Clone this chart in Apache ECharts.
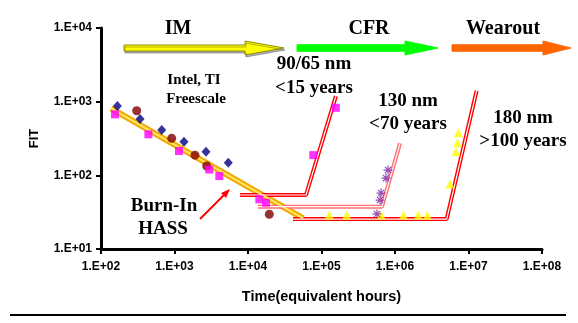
<!DOCTYPE html>
<html>
<head>
<meta charset="utf-8">
<script src="https://cdn.jsdelivr.net/npm/echarts@6/dist/echarts.min.js"></script>
<style>html,body{margin:0;padding:0;background:#fff;}#c{width:578px;height:323px;}</style>
</head>
<body>
<div id="c"></div>
<script>
const xTickLabels = ['1.E+02','1.E+03','1.E+04','1.E+05','1.E+06','1.E+07','1.E+08'];
const yTickLabels = ['1.E+01','1.E+02','1.E+03','1.E+04'];

const navyDiamonds = [[167,871],[340,581],[670,412],[1346,286],[2684,209],[5393,148]];
const maroonCircles = [[306,753],[916,318],[1901,188],[2742,134],[19500,29.6]];
const magentaSquares = [[155,673],[441,360],[1151,214],[2972,120],[4070,97.7],[14260,47.2],[17580,42.5],[77300,188],[157000,826]];
const yellowTriangles = [[127700,28.9],[220000,28.9],[645000,28.9],[1300000,28.9],[2070000,28.9],[2750000,28.9],[5600000,76.2],[6760000,209],[7050000,277],[7270000,378]];
const purpleStars = [[804000,118],[755000,91.8],[646000,57.5],[626000,46.2],[569000,29.9]];
const burnInTrend = [[137,811],[56500,26.1]];
const curve90 = [[7780,54.1],[61500,54.1],[157000,1191]];
const curve130 = [[13700,37.5],[665000,37.5],[1170000,272]];
const curve180 = [[40900,25.5],[5050000,25.5],[12900000,1406]];

const serif = 'Liberation Serif';
const sans = 'Liberation Sans';

function dbl(data, outer, inner, wOut, wIn) {
  return [
    {type:'line', data, symbol:'none', silent:true, lineStyle:{color:outer, width:wOut}, z:2},
    {type:'line', data, symbol:'none', silent:true, lineStyle:{color:inner, width:wIn}, z:3}
  ];
}
function scatter(data, symbol, size, color, extra) {
  return Object.assign({type:'scatter', data, symbol, symbolSize:size, itemStyle:{color}, z:5}, extra||{});
}
function arrow(x0, x1, xh, y, sh, hh, fill, stroke, shadow) {
  const style = {fill, stroke:stroke||fill, lineWidth:1};
  if (shadow) { style.shadowColor = 'rgba(0,0,0,0.3)'; style.shadowOffsetY = 2; style.shadowOffsetX = 1; style.shadowBlur = 0; }
  return {type:'polygon', shape:{points:[[x0,y-sh/2],[x1,y-sh/2],[x1,y-hh/2],[xh,y],[x1,y+hh/2],[x1,y+sh/2],[x0,y+sh/2]]}, style};
}
function txt(x, y, t, size) {
  return {type:'text', x, y, style:{text:t, font:'bold '+size+'px "'+serif+'"', fill:'#000', align:'center', verticalAlign:'middle'}};
}

const chart = echarts.init(document.getElementById('c'));
chart.setOption({
  animation:false,
  backgroundColor:'#fff',
  grid:{left:101, right:36, top:28, bottom:74, outerBoundsMode:'none'},
  xAxis:{type:'log', logBase:10, min:100, max:1e8,
    name:'Time(equivalent hours)', nameLocation:'middle', nameGap:40,
    nameTextStyle:{fontFamily:sans, fontWeight:'bold', fontSize:14.5, color:'#000'},
    axisLine:{lineStyle:{color:'#000', width:3}},
    axisTick:{show:true, length:5, lineStyle:{color:'#000', width:2}},
    minorTick:{show:false}, splitLine:{show:false},
    axisLabel:{color:'#000', fontFamily:sans, fontWeight:'bold', fontSize:12, margin:12,
      formatter:v => xTickLabels[Math.round(Math.log10(v)) - 2]}
  },
  yAxis:{type:'log', logBase:10, min:10, max:1e4,
    name:'FIT', nameLocation:'middle', nameGap:60, nameRotate:90,
    nameTextStyle:{fontFamily:sans, fontWeight:'bold', fontSize:13, color:'#000'},
    axisLine:{show:true, lineStyle:{color:'#000', width:3}},
    axisTick:{show:true, length:5, lineStyle:{color:'#000', width:2}},
    minorTick:{show:false}, splitLine:{show:false},
    axisLabel:{color:'#000', fontFamily:sans, fontWeight:'bold', fontSize:12, margin:9,
      formatter:v => yTickLabels[Math.round(Math.log10(v)) - 1]}
  },
  series:[
    ...dbl(burnInTrend, '#f2a900', '#ffe866', 6, 2),
    ...dbl(curve130, '#ff6f6f', '#ffffff', 4, 1.2),
    ...dbl(curve90, '#ff0000', '#ffffff', 4, 1.2),
    ...dbl(curve180, '#ff0000', '#ffffff', 4, 1.2),
    scatter(navyDiamonds, 'diamond', [9,10], '#000080'),
    scatter(maroonCircles, 'circle', 9, '#800000'),
    scatter(magentaSquares, 'rect', 8, '#ff00ff'),
    scatter(yellowTriangles, 'triangle', 9, '#ffff00'),
    scatter(purpleStars, 'path://M0,5L10,5M5,0L5,10M1.5,1.5L8.5,8.5M1.5,8.5L8.5,1.5', 9, 'none',
      {itemStyle:{color:'none', borderColor:'#7a1fa2', borderWidth:1.2}})
  ],
  graphic:[
    arrow(124, 245, 284, 48, 6, 14, '#ffff00', '#8c8c00', true),
    arrow(297, 405, 438, 48, 6.5, 14, '#00ff00'),
    arrow(452, 543, 571, 48, 6.5, 14, '#ff6600'),
    txt(178, 29, 'IM', 20),
    txt(369, 29, 'CFR', 20),
    txt(503, 29, 'Wearout', 20),
    txt(314, 64, '90/65 nm', 19),
    txt(314, 88, '<15 years', 19),
    txt(408, 101, '130 nm', 19),
    txt(408, 124, '<70 years', 19),
    txt(523, 118, '180 nm', 19),
    txt(523, 141, '>100 years', 19),
    txt(194, 80, 'Intel, TI', 15),
    txt(196, 99, 'Freescale', 15),
    txt(164, 206, 'Burn-In', 19),
    txt(163, 229, 'HASS', 19),
    {type:'line', shape:{x1:200, y1:219, x2:226, y2:193}, style:{stroke:'#ff0000', lineWidth:2}},
    {type:'polygon', shape:{points:[[230,189],[221,193],[226,198]]}, style:{fill:'#ff0000'}},
    {type:'line', shape:{x1:10, y1:315, x2:566, y2:315}, style:{stroke:'#000', lineWidth:2}}
  ]
});
</script>
</body>
</html>
